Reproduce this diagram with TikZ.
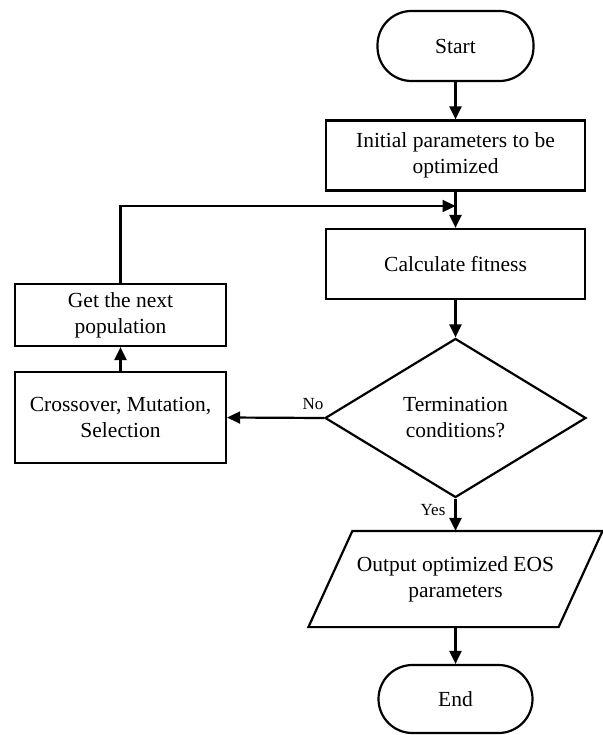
\documentclass[tikz,border=0pt]{standalone}
\usepackage{fontspec}
\setmainfont{Liberation Serif}
\usetikzlibrary{arrows.meta,shapes.geometric,calc}
\begin{document}
\begin{tikzpicture}[x=1pt,y=-1pt,
  line width=2.2pt,
  every node/.style={font=\fontsize{21.5}{26}\selectfont, align=center, inner sep=0pt},
  procbox/.style={draw, rectangle, line width=2.2pt},
  termbox/.style={draw, rectangle, rounded corners=34pt, line width=2.2pt},
  decbox/.style={draw, diamond, aspect=1.64, line width=2.2pt},
  lbl/.style={font=\fontsize{17}{20}\selectfont},
  arr/.style={-{Triangle[length=13pt,width=12pt]}, line width=2.2pt}]
\useasboundingbox (0,0) rectangle (602,735);
\node[termbox, minimum width=156pt, minimum height=70pt] (start) at (455.5,46) {Start};
\node[procbox, minimum width=259pt, minimum height=70pt] (init) at (455.5,155.5) {Initial parameters to be\\optimized};
\node[procbox, minimum width=259pt, minimum height=70pt] (calc) at (455.5,264) {Calculate fitness};
\node[decbox, minimum width=261pt, minimum height=159pt] (dec) at (455.5,418) {Termination\\conditions?};
\node[procbox, minimum width=211pt, minimum height=91pt] (cross) at (120.5,417.5) {Crossover, Mutation,\\Selection};
\node[procbox, minimum width=211pt, minimum height=62pt] (next) at (120.5,315) {Get the next\\population};
\node[minimum width=248pt, minimum height=94pt] (out) at (455.5,579) {Output optimized EOS\\parameters};
\draw ([xshift=22pt]out.north west) -- ([xshift=22pt]out.north east) -- ([xshift=-22pt]out.south east) -- ([xshift=-22pt]out.south west) -- cycle;
\node[termbox, minimum width=154pt, minimum height=68pt] (end) at (455.5,699) {End};
\coordinate (join) at (455.5,206);
\draw[arr] (start) -- (init);
\draw[arr] (init) -- (calc);
\draw[arr] (calc) -- (dec);
\draw[arr] (dec.west) -- (cross.east);
\draw[arr] (cross) -- (next);
\draw[arr] (next.north) |- (join);
\draw[arr] (dec.south) -- (out.north);
\draw[arr] (out) -- (end);
\node[lbl] (nolbl) at (313,404) {No};
\node[lbl] (yeslbl) at (433,510) {Yes};
\end{tikzpicture}
\end{document}
